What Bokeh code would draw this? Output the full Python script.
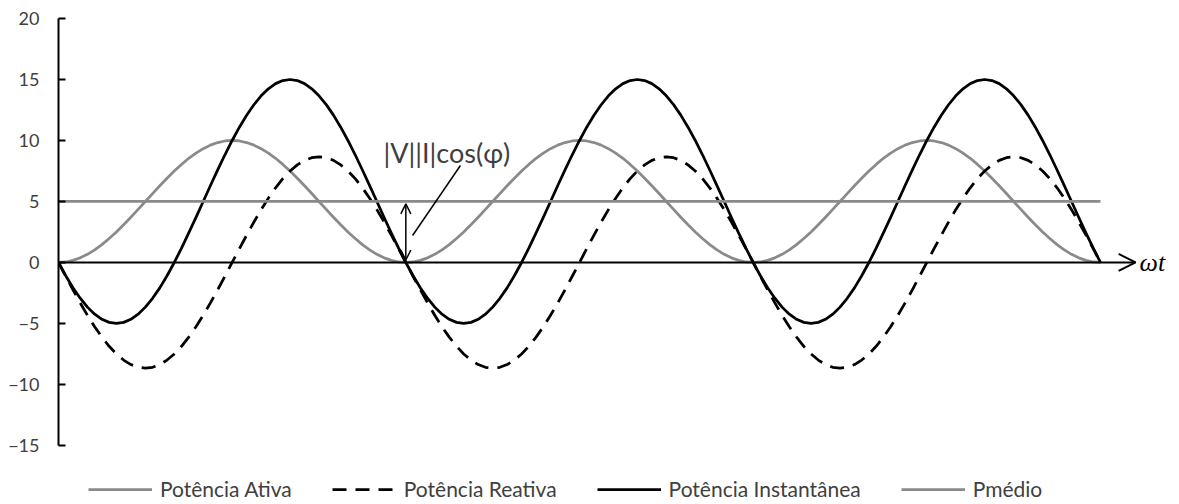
from bokeh.plotting import figure
from bokeh.models import (Range1d, FixedTicker, Legend, LegendItem, Arrow, OpenHead,
                          Label, ColumnDataSource)
from bokeh.embed import file_html
from bokeh.resources import INLINE

# sampling grid: omega*t in degrees (0..540, step 3.75)
wt = [3.75 * i for i in range(145)]

p_ativa = [
    0, 0.04, 0.17, 0.38, 0.67, 1.03, 1.46, 1.96, 2.5, 3.09, 3.71, 4.35, 5, 5.65, 6.29, 6.91, 7.5, 8.04, 8.54, 8.97, 9.33, 9.62, 9.83, 9.96,
    10, 9.96, 9.83, 9.62, 9.33, 8.97, 8.54, 8.04, 7.5, 6.91, 6.29, 5.65, 5, 4.35, 3.71, 3.09, 2.5, 1.96, 1.46, 1.03, 0.67, 0.38, 0.17, 0.04,
    0, 0.04, 0.17, 0.38, 0.67, 1.03, 1.46, 1.96, 2.5, 3.09, 3.71, 4.35, 5, 5.65, 6.29, 6.91, 7.5, 8.04, 8.54, 8.97, 9.33, 9.62, 9.83, 9.96,
    10, 9.96, 9.83, 9.62, 9.33, 8.97, 8.54, 8.04, 7.5, 6.91, 6.29, 5.65, 5, 4.35, 3.71, 3.09, 2.5, 1.96, 1.46, 1.03, 0.67, 0.38, 0.17, 0.04,
    0, 0.04, 0.17, 0.38, 0.67, 1.03, 1.46, 1.96, 2.5, 3.09, 3.71, 4.35, 5, 5.65, 6.29, 6.91, 7.5, 8.04, 8.54, 8.97, 9.33, 9.62, 9.83, 9.96,
    10, 9.96, 9.83, 9.62, 9.33, 8.97, 8.54, 8.04, 7.5, 6.91, 6.29, 5.65, 5, 4.35, 3.71, 3.09, 2.5, 1.96, 1.46, 1.03, 0.67, 0.38, 0.17, 0.04,
    0]
p_reativa = [
    0, -1.13, -2.24, -3.31, -4.33, -5.27, -6.12, -6.87, -7.5, -8.0, -8.37, -8.59, -8.66, -8.59, -8.37, -8.0, -7.5, -6.87, -6.12, -5.27, -4.33, -3.31, -2.24, -1.13,
    0, 1.13, 2.24, 3.31, 4.33, 5.27, 6.12, 6.87, 7.5, 8.0, 8.37, 8.59, 8.66, 8.59, 8.37, 8.0, 7.5, 6.87, 6.12, 5.27, 4.33, 3.31, 2.24, 1.13,
    0, -1.13, -2.24, -3.31, -4.33, -5.27, -6.12, -6.87, -7.5, -8.0, -8.37, -8.59, -8.66, -8.59, -8.37, -8.0, -7.5, -6.87, -6.12, -5.27, -4.33, -3.31, -2.24, -1.13,
    0, 1.13, 2.24, 3.31, 4.33, 5.27, 6.12, 6.87, 7.5, 8.0, 8.37, 8.59, 8.66, 8.59, 8.37, 8.0, 7.5, 6.87, 6.12, 5.27, 4.33, 3.31, 2.24, 1.13,
    0, -1.13, -2.24, -3.31, -4.33, -5.27, -6.12, -6.87, -7.5, -8.0, -8.37, -8.59, -8.66, -8.59, -8.37, -8.0, -7.5, -6.87, -6.12, -5.27, -4.33, -3.31, -2.24, -1.13,
    0, 1.13, 2.24, 3.31, 4.33, 5.27, 6.12, 6.87, 7.5, 8.0, 8.37, 8.59, 8.66, 8.59, 8.37, 8.0, 7.5, 6.87, 6.12, 5.27, 4.33, 3.31, 2.24, 1.13,
    0]
p_inst = [
    0, -1.09, -2.07, -2.93, -3.66, -4.24, -4.66, -4.91, -5.0, -4.91, -4.66, -4.24, -3.66, -2.94, -2.08, -1.09, 0, 1.17, 2.42, 3.7, 5.0, 6.31, 7.59, 8.83,
    10, 11.09, 12.07, 12.93, 13.66, 14.24, 14.66, 14.91, 15.0, 14.91, 14.66, 14.24, 13.66, 12.94, 12.08, 11.09, 10, 8.83, 7.58, 6.3, 5.0, 3.69, 2.41, 1.17,
    0, -1.09, -2.07, -2.93, -3.66, -4.24, -4.66, -4.91, -5.0, -4.91, -4.66, -4.24, -3.66, -2.94, -2.08, -1.09, 0, 1.17, 2.42, 3.7, 5.0, 6.31, 7.59, 8.83,
    10, 11.09, 12.07, 12.93, 13.66, 14.24, 14.66, 14.91, 15.0, 14.91, 14.66, 14.24, 13.66, 12.94, 12.08, 11.09, 10, 8.83, 7.58, 6.3, 5.0, 3.69, 2.41, 1.17,
    0, -1.09, -2.07, -2.93, -3.66, -4.24, -4.66, -4.91, -5.0, -4.91, -4.66, -4.24, -3.66, -2.94, -2.08, -1.09, 0, 1.17, 2.42, 3.7, 5.0, 6.31, 7.59, 8.83,
    10, 11.09, 12.07, 12.93, 13.66, 14.24, 14.66, 14.91, 15.0, 14.91, 14.66, 14.24, 13.66, 12.94, 12.08, 11.09, 10, 8.83, 7.58, 6.3, 5.0, 3.69, 2.41, 1.17,
    0]
p_medio = [
    5, 5, 5, 5, 5, 5, 5, 5, 5, 5, 5, 5, 5, 5, 5, 5, 5, 5, 5, 5, 5, 5, 5, 5,
    5, 5, 5, 5, 5, 5, 5, 5, 5, 5, 5, 5, 5, 5, 5, 5, 5, 5, 5, 5, 5, 5, 5, 5,
    5, 5, 5, 5, 5, 5, 5, 5, 5, 5, 5, 5, 5, 5, 5, 5, 5, 5, 5, 5, 5, 5, 5, 5,
    5, 5, 5, 5, 5, 5, 5, 5, 5, 5, 5, 5, 5, 5, 5, 5, 5, 5, 5, 5, 5, 5, 5, 5,
    5, 5, 5, 5, 5, 5, 5, 5, 5, 5, 5, 5, 5, 5, 5, 5, 5, 5, 5, 5, 5, 5, 5, 5,
    5, 5, 5, 5, 5, 5, 5, 5, 5, 5, 5, 5, 5, 5, 5, 5, 5, 5, 5, 5, 5, 5, 5, 5,
    5]
y_ticks = [-15, -10, -5, 0, 5, 10, 15, 20]
labels = ["Potência Ativa", "Potência Reativa", "Potência Instantânea", "Pmédio"]

GRAY = "#8a8a8a"
TXT = "#404040"

src = ColumnDataSource(dict(wt=wt, a=p_ativa, r=p_reativa, i=p_inst, m=p_medio))

p = figure(width=1179, height=504, output_backend="svg", toolbar_location=None,
           x_range=Range1d(0, 580.95), y_range=Range1d(-19.84, 20),
           min_border_left=58, min_border_right=0, min_border_top=18, min_border_bottom=0)
p.outline_line_color = None
p.grid.visible = False
p.xaxis.visible = False

ya = p.yaxis[0]
ya.ticker = FixedTicker(ticks=y_ticks)
ya.bounds = (-15, 20)
ya.axis_line_width = 2
ya.axis_line_color = "black"
ya.major_tick_line_width = 2
ya.major_tick_line_color = "black"
ya.major_tick_in = 7
ya.major_tick_out = 0
ya.minor_tick_line_color = None
ya.major_label_text_font = "Lato"
ya.major_label_text_font_size = "18px"
ya.major_label_text_color = TXT
ya.major_label_standoff = 19

# x axis with arrow
p.add_layout(Arrow(x_start=0, y_start=0, x_end=558.2, y_end=0, line_width=2, line_color="black",
                   end=OpenHead(size=17, line_width=2, line_color="black")))
p.add_layout(Label(x=559.2, y=0, text="ωt", text_font="Liberation Serif", text_font_style="italic",
                   text_font_size="26px", text_baseline="middle", text_color="black", x_offset=2))

r1 = p.line("wt", "a", source=src, line_color=GRAY, line_width=2.75, line_join="round")
r2 = p.line("wt", "r", source=src, line_color="black", line_width=2.75, line_dash="14 9", line_join="round")
r3 = p.line("wt", "i", source=src, line_color="black", line_width=2.75, line_join="round")
r4 = p.line("wt", "m", source=src, line_color=GRAY, line_width=2.75)

# annotation
p.add_layout(Arrow(x_start=180, y_start=0.2, x_end=180, y_end=4.8, line_width=1.5, line_color="black",
                   start=OpenHead(size=10, line_width=1.5), end=OpenHead(size=10, line_width=1.5)))
p.segment(x0=[208.3], y0=[7.95], x1=[183.5], y1=[2.21], line_color="black", line_width=1.5)
p.add_layout(Label(x=168.4, y=9.0, text="|V||I|cos(φ)", text_font="Lato", text_font_size="27px",
                   text_baseline="middle", text_color=TXT))

legend = Legend(items=[LegendItem(label=labels[0], renderers=[r1]),
                       LegendItem(label=labels[1], renderers=[r2]),
                       LegendItem(label=labels[2], renderers=[r3]),
                       LegendItem(label=labels[3], renderers=[r4])],
                orientation="horizontal", location=(30, 3), padding=0, margin=0, spacing=40,
                glyph_width=64, glyph_height=16, label_standoff=8, label_height=16,
                border_line_color=None, background_fill_alpha=0,
                label_text_font="Lato", label_text_font_size="21px", label_text_color=TXT)
legend.click_policy = "none"
p.add_layout(legend)

open("out.html", "w").write(file_html(p, INLINE))
